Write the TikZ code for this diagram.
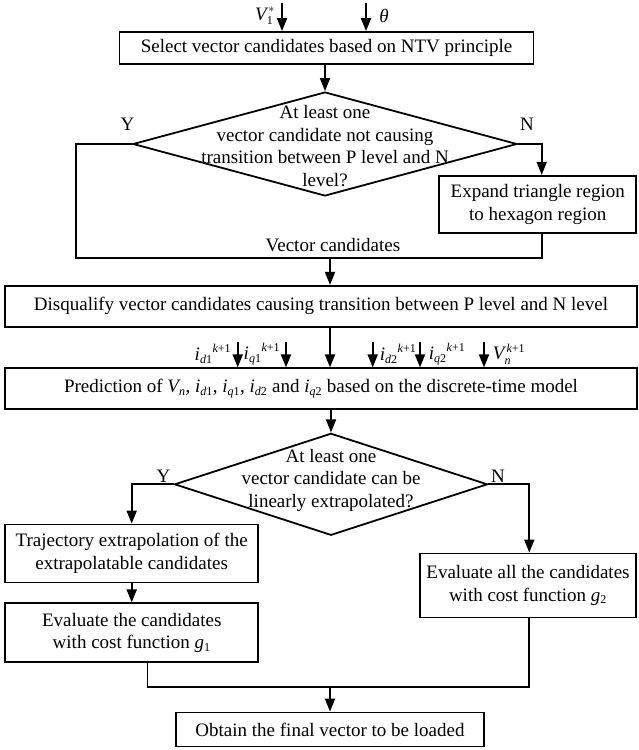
\documentclass[tikz,border=0pt]{standalone}
\usepackage{amsmath}
\usepackage{fontspec}
\setmainfont{Liberation Serif}
\usetikzlibrary{arrows.meta,shapes.geometric}
\DeclareMathSizes{19}{19}{12}{9}

% current with subscript, e.g. \icur{d}{1}
\newcommand{\icur}[2]{\textit{i}_{\textit{#1}\textup{#2}}}
\newcommand{\knext}{^{\textit{k}\textup{+1}}}

\begin{document}
\begin{tikzpicture}[x=1pt,y=-1pt,>={Triangle[length=13pt,width=10pt]},line width=1.8pt,
  font=\fontsize{19}{22.5}\selectfont,
  box/.style 2 args={draw,minimum width=#1,minimum height=#2,inner sep=0pt,align=center},
  decision/.style 2 args={draw,diamond,minimum width=#1,minimum height=#2,inner sep=0pt},
  lbl/.style={inner sep=1pt}]
\useasboundingbox (0,0) rectangle (639,750);

% inputs
\coordinate (vin) at (282,3);
\coordinate (thin) at (366,3);
\node[lbl] (vlbl) at (265,16) {$\textit{V}_{\textup{1}}^{\kern1.5pt *}$};
\node[lbl] (thlbl) at (384,16) {\textit{θ}};

\node[box={414}{32}] (select) at (326.5,48) {Select vector candidates based on NTV principle};
\node[decision={384}{104}] (ntv) at (325,144) {};
\node[align=center,inner sep=0pt] (ntvq) at (325,146) {At least one\\vector candidate not causing\\transition between P level and N\\level?};
\node[lbl] (y1) at (127.6,124) {Y};
\node[lbl] (n1) at (527,124) {N};
\node[box={197}{57}] (expand) at (537.7,204.3) {Expand triangle region\\to hexagon region};
\node[lbl] (vclbl) at (333,245) {Vector candidates};
\coordinate (vc) at (330,258.3);
\coordinate (yturn) at (76,258.3);
\coordinate (nturn) at (541.7,144);

\node[box={632}{41}] (disq) at (321,306.3) {Disqualify vector candidates causing transition between P level and N level};
\node[box={632}{41}] (pred) at (321,388.8) {Prediction of $\textit{V}_{\textit{n}}$, $\icur{d}{1}$, $\icur{q}{1}$, $\icur{d}{2}$ and $\icur{q}{2}$ based on the discrete-time model};

% predicted inputs
\coordinate (id1) at (237.7,342);
\coordinate (iq1) at (286,342);
\coordinate (id2) at (372.7,342);
\coordinate (iq2) at (420,342);
\coordinate (vn) at (484,342);
\node[lbl,anchor=east] (id1lbl) at (233,354) {${\icur{d}{1}}\knext$};
\node[lbl,anchor=east] (iq1lbl) at (282,354) {${\icur{q}{1}}\knext$};
\node[lbl,anchor=west] (id2lbl) at (378,354) {${\icur{d}{2}}\knext$};
\node[lbl,anchor=west] (iq2lbl) at (427,354) {${\icur{q}{2}}\knext$};
\node[lbl,anchor=west] (vnlbl) at (491,354) {$\textit{V}_{\textit{n}}^{\kern2pt\textit{k}\textup{+1}}$};

\node[decision={313}{102}] (extrap) at (331,484.3) {};
\node[align=center,inner sep=0pt] (extrapq) at (331,480) {At least one\\vector candidate can be\\linearly extrapolated?};
\node[lbl] (y2) at (163.5,476) {Y};
\node[lbl] (n2) at (498,476) {N};
\coordinate (yturn2) at (131.7,484.3);
\coordinate (nturn2) at (529.3,484.3);

\node[box={253}{58}] (traj) at (131.7,553.5) {Trajectory extrapolation of the\\extrapolatable candidates};
\node[box={253}{59}] (evalg1) at (131.7,632.8) {Evaluate the candidates\\with cost function \textit{g}$_{\textup{1}}$};
\node[box={216}{64}] (evalg2) at (528,585.5) {Evaluate all the candidates\\with cost function \textit{g}$_{\textup{2}}$};
\coordinate (lj) at (147.5,686.7);
\coordinate (join) at (330,686.7);
\node[box={308}{34}] (final) at (330,729.5) {Obtain the final vector to be loaded};

% connectors
\draw[->] (vin) -- (vin |- select.north);
\draw[->] (thin) -- (thin |- select.north);
\draw[->] (ntv.north |- select.south) -- (ntv.north);
\draw (ntv.west) -| (yturn) -- (vc);
\draw[->] (ntv.east) -- (nturn) -- (nturn |- expand.north);
\draw (nturn |- expand.south) |- (vc);
\draw[->] (vc) -- (vc |- disq.north);
\draw[->] (vc |- disq.south) -- (vc |- pred.north);
\draw[->] (id1) -- (id1 |- pred.north);
\draw[->] (iq1) -- (iq1 |- pred.north);
\draw[->] (id2) -- (id2 |- pred.north);
\draw[->] (iq2) -- (iq2 |- pred.north);
\draw[->] (vn) -- (vn |- pred.north);
\draw[->] (extrap.north |- pred.south) -- (extrap.north);
\draw[->] (extrap.west) -- (yturn2) -- (traj.north);
\draw[->] (traj.south) -- (evalg1.north);
\draw[->] (extrap.east) -- (nturn2) -- (nturn2 |- evalg2.north);
\draw (lj |- evalg1.south) -- (lj) -- (lj -| nturn2) -- (nturn2 |- evalg2.south);
\draw[->] (join) -- (final.north);
\end{tikzpicture}
\end{document}
